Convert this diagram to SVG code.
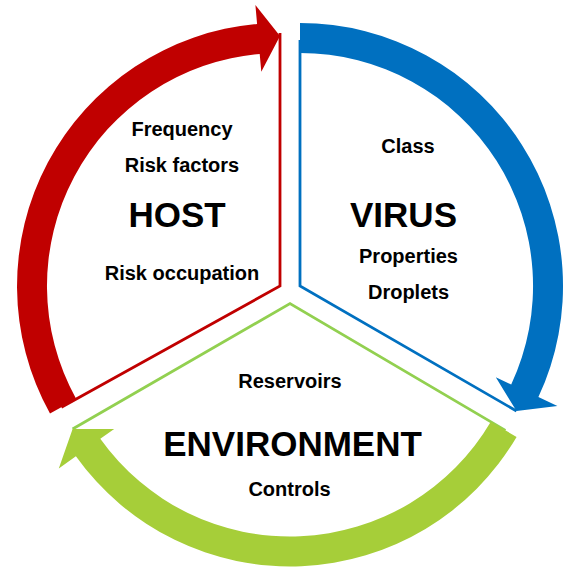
<svg xmlns="http://www.w3.org/2000/svg" width="564" height="570" viewBox="0 0 564 570">
  <style>
    .lbl { font-family: "Liberation Sans", Arial, sans-serif; font-weight: bold; font-size: 20px; fill: #000; text-anchor: middle; }
    .big { font-family: "Liberation Sans", Arial, sans-serif; font-weight: bold; font-size: 35px; fill: #000; text-anchor: middle; }
    .edge { fill: none; stroke-width: 2.8; stroke-linejoin: miter; }
    .red { stroke: #C00000; }
    .blue { stroke: #0070C0; }
    .green { stroke: #92D050; }
  </style>
  <rect width="564" height="570" fill="#FFFFFF"/>

  <g id="host">
    <polyline class="edge red" points="280,33 280,286 61.4,407.2"/>
    <text class="lbl" x="182" y="136">Frequency</text>
    <text class="lbl" x="182" y="172">Risk factors</text>
    <text class="big" x="177" y="227">HOST</text>
    <text class="lbl" x="182" y="280">Risk occupation</text>
  </g>

  <g id="virus">
    <polyline class="edge blue" points="300,40 300,286 516.5,411"/>
    <text class="lbl" x="408" y="153">Class</text>
    <text class="big" x="403.5" y="227">VIRUS</text>
    <text class="lbl" x="408.5" y="263">Properties</text>
    <text class="lbl" x="408.5" y="299">Droplets</text>
  </g>

  <g id="environment">
    <polyline class="edge green" points="72.6,429 290,303.5 505.4,430.4"/>
    <text class="lbl" x="290" y="388">Reservoirs</text>
    <text class="big" x="292.5" y="456">ENVIRONMENT</text>
    <text class="lbl" x="289.5" y="496">Controls</text>
  </g>

  <g id="connectors">
    <path id="arrow-host-virus" fill="#C00000" d="M 50,413.5 A 263 263 0 0 1 257.1,24 L 255.4,5.1 L 280,36 L 261.3,71.8 L 259.7,53.9 A 233 233 0 0 0 76.2,399 Z"/>
    <path id="arrow-virus-environment" fill="#0070C0" d="M 300,23 A 263 263 0 0 1 538.4,397.1 L 557.4,406 L 516.5,411 L 495.8,377.3 L 511.2,384.5 A 233 233 0 0 0 300,53 Z"/>
    <path id="arrow-environment-host" fill="#A6CE39" d="M 516.6,437 A 263 263 0 0 1 75.9,456.2 L 58.8,468.4 L 72.6,429 L 114.2,428.9 L 100.3,438.8 A 233 233 0 0 0 490.8,421.7 Z"/>
  </g>
</svg>
